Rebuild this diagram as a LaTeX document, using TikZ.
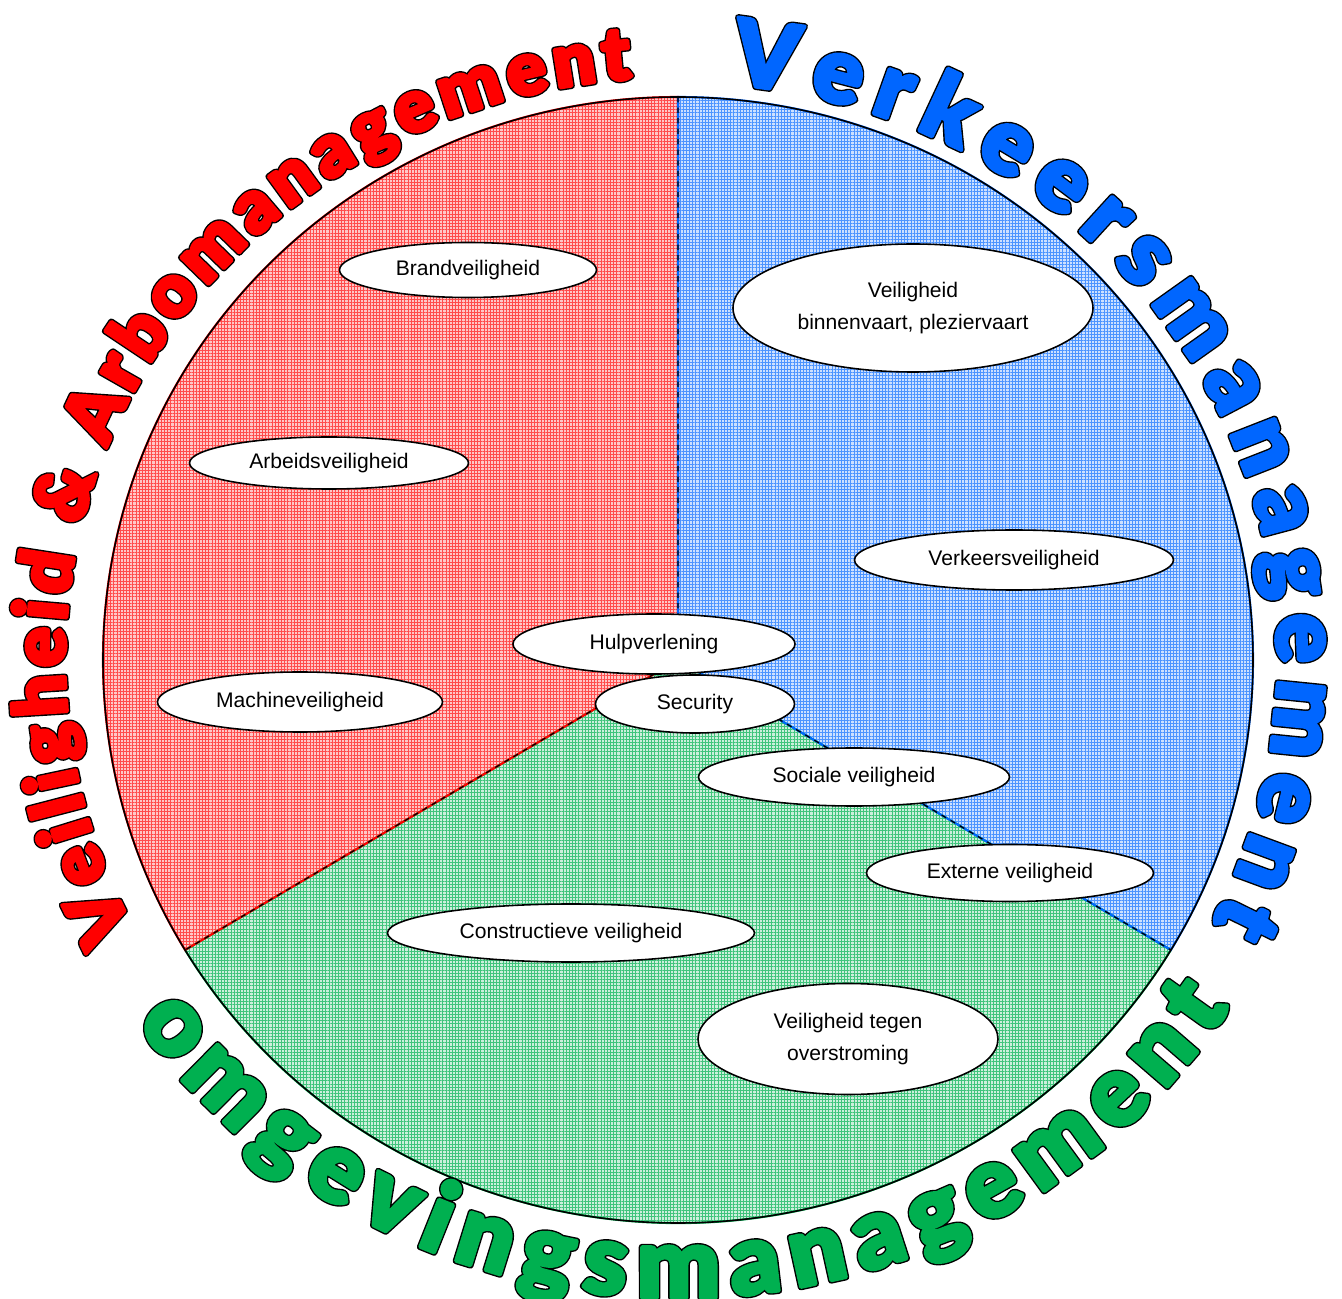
\documentclass[tikz,border=0pt]{standalone}
\usepackage{fontspec}
\setmainfont{Liberation Sans}
\IfFontExistsTF{Lato Black}{\newfontfamily\wordart{Lato Black}}{\newfontfamily\wordart{Liberation Sans}[UprightFont={* Bold}]}
\usepackage{tikz}
\usetikzlibrary{shapes.geometric,positioning,patterns.meta,decorations.text}
\usepackage{xcolor}
\definecolor{vred}{RGB}{255,0,0}
\definecolor{vblue}{RGB}{0,102,255}
\definecolor{vgreen}{RGB}{0,176,80}
% heavy letters: a wide black stroke first, then a coloured one on top
\newcommand\blackrim{\special{pdf:literal direct 3.6 w 1 j 2 Tr}}
\newcommand\fatrim{\special{pdf:literal direct 2.0 w 1 j 2 Tr}}
\tikzstyle{bubble} = [ellipse, draw=black, line width=0.9pt, fill=white, inner sep=0pt, align=center, font=\fontsize{12}{18.2}\selectfont]
\tikzstyle{edge} = [line width=1.2pt]
\tikzstyle{divider} = [dashed, black, line width=0.7pt]
\tikzset{grid fill/.style={pattern={Hatch[angle=0,distance=1.8pt,line width=0.45pt]}, pattern color=#1}}
\tikzset{curved/.style={decorate, decoration={text along path, text align={fit to path}, text format delimiters={|}{|}, text color=#1}}}

\begin{document}
\begin{tikzpicture}
\useasboundingbox (-13.56,-12.78) rectangle (13.28,13.2);

% Three sectors
\fill[vgreen!20] (0,0) -- (211:11.5 and 11.26) arc[start angle=211, end angle=329, x radius=11.5, y radius=11.26] -- cycle;
\fill[vred!22] (0,0) -- (90:11.5 and 11.26) arc[start angle=90, end angle=211, x radius=11.5, y radius=11.26] -- cycle;
\fill[vblue!20] (0,0) -- (90:11.5 and 11.26) arc[start angle=90, end angle=-31, x radius=11.5, y radius=11.26] -- cycle;
\fill[grid fill=vgreen!75] (0,0) -- (211:11.5 and 11.26) arc[start angle=211, end angle=329, x radius=11.5, y radius=11.26] -- cycle;
\fill[grid fill=vred!70] (0,0) -- (90:11.5 and 11.26) arc[start angle=90, end angle=211, x radius=11.5, y radius=11.26] -- cycle;
\fill[grid fill=vblue!70] (0,0) -- (90:11.5 and 11.26) arc[start angle=90, end angle=-31, x radius=11.5, y radius=11.26] -- cycle;

% Borders
\draw[edge, vgreen] (0,0) -- (211:11.5 and 11.26) arc[start angle=211, end angle=329, x radius=11.5, y radius=11.26] -- cycle;
\draw[edge, vred] (0,0) -- (90:11.5 and 11.26) arc[start angle=90, end angle=211, x radius=11.5, y radius=11.26] -- cycle;
\draw[edge, vblue] (0,0) -- (90:11.5 and 11.26) arc[start angle=90, end angle=-31, x radius=11.5, y radius=11.26] -- cycle;
\draw[divider] (90:11.5 and 11.26) -- (0,0) -- (211:11.5 and 11.26);
\draw[divider] (0,0) -- (329:11.5 and 11.26);
\draw[black, line width=0.9pt] (0,0) ellipse [x radius=11.5, y radius=11.26];

% Topics
\node (brand) [bubble, minimum width=5.14cm, minimum height=1.10cm] at (-4.20,7.80) {Brandveiligheid};
\node (vaart) [bubble, minimum width=7.20cm, minimum height=2.56cm] at (4.70,7.04) {Veiligheid\\binnenvaart, pleziervaart};
\node (arbeid) [bubble, minimum width=5.58cm, minimum height=1.04cm] at (-6.98,3.94) {Arbeidsveiligheid};
\node (verkeer) [bubble, minimum width=6.38cm, minimum height=1.20cm] at (6.72,2.00) {Verkeersveiligheid};
\node (hulp) [bubble, minimum width=5.64cm, minimum height=1.20cm] at (-0.48,0.32) {Hulpverlening};
\node (machine) [bubble, minimum width=5.70cm, minimum height=1.20cm] at (-7.56,-0.84) {Machineveiligheid};
\node (security) [bubble, minimum width=3.98cm, minimum height=1.16cm] at (0.34,-0.88) {Security};
\node (sociaal) [bubble, minimum width=6.22cm, minimum height=1.16cm] at (3.52,-2.34) {Sociale veiligheid};
\node (extern) [bubble, minimum width=5.74cm, minimum height=1.14cm] at (6.64,-4.26) {Externe veiligheid};
\node (constr) [bubble, minimum width=7.34cm, minimum height=1.16cm] at (-2.14,-5.46) {Constructieve veiligheid};
\node (overstr) [bubble, minimum width=6.00cm, minimum height=2.22cm] at (3.40,-7.58) {Veiligheid tegen\\overstroming};

% Headings round the circle (black rim pass, then colour pass)
\path[curved=black, decoration={text={|\fontsize{42}{42}\wordart\blackrim|Veiligheid {\&} Arbomanagement}}]
  (207.5:12.26 and 11.66) arc[start angle=207.5, end angle=94.3, x radius=12.26, y radius=11.66];
\path[curved=vred, decoration={text={|\fontsize{42}{42}\wordart\fatrim|Veiligheid {\&} Arbomanagement}}]
  (207.5:12.26 and 11.66) arc[start angle=207.5, end angle=94.3, x radius=12.26, y radius=11.66];
\path[curved=black, decoration={text={|\fontsize{52}{52}\wordart\blackrim|Verkeersmanagement}}]
  (85:11.98 and 11.56) arc[start angle=85, end angle=-27, x radius=11.98, y radius=11.56];
\path[curved=vblue, decoration={text={|\fontsize{52}{52}\wordart\fatrim|Verkeersmanagement}}]
  (85:11.98 and 11.56) arc[start angle=85, end angle=-27, x radius=11.98, y radius=11.56];
\path[curved=black, decoration={text={|\fontsize{56}{56}\wordart\blackrim|omgevingsmanagement}}]
  (214.5:13.16 and 12.76) arc[start angle=214.5, end angle=327, x radius=13.16, y radius=12.76];
\path[curved=vgreen, decoration={text={|\fontsize{56}{56}\wordart\fatrim|omgevingsmanagement}}]
  (214.5:13.16 and 12.76) arc[start angle=214.5, end angle=327, x radius=13.16, y radius=12.76];
\end{tikzpicture}
\end{document}
